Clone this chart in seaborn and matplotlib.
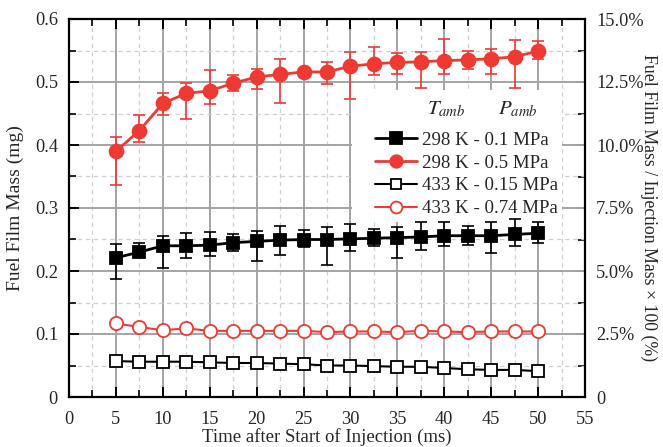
import numpy as np
import pandas as pd
import matplotlib
matplotlib.use("Agg")
import matplotlib.pyplot as plt
import seaborn as sns
from matplotlib.lines import Line2D
from matplotlib.patches import Rectangle
from matplotlib.ticker import MultipleLocator, FuncFormatter

time_ms = [5, 7.5, 10, 12.5, 15, 17.5, 20, 22.5, 25, 27.5, 30, 32.5, 35, 37.5, 40, 42.5, 45, 47.5, 50]

# 298 K - 0.1 MPa
s1_val = [0.221, 0.230, 0.240, 0.240, 0.241, 0.245, 0.247, 0.249, 0.250, 0.250, 0.251, 0.252, 0.253, 0.254, 0.256, 0.256, 0.256, 0.258, 0.260]
s1_hi = [0.243, 0.244, 0.256, 0.261, 0.262, 0.259, 0.264, 0.271, 0.265, 0.270, 0.275, 0.266, 0.270, 0.277, 0.278, 0.271, 0.277, 0.282, 0.278]
s1_lo = [0.187, 0.225, 0.204, 0.220, 0.224, 0.231, 0.216, 0.225, 0.238, 0.210, 0.231, 0.239, 0.221, 0.234, 0.239, 0.241, 0.229, 0.240, 0.244]

# 298 K - 0.5 MPa
s2_val = [0.390, 0.423, 0.466, 0.482, 0.486, 0.498, 0.508, 0.512, 0.516, 0.516, 0.525, 0.529, 0.531, 0.532, 0.534, 0.535, 0.537, 0.540, 0.549]
s2_hi = [0.412, 0.448, 0.482, 0.499, 0.519, 0.511, 0.521, 0.537, 0.520, 0.531, 0.547, 0.556, 0.546, 0.548, 0.568, 0.549, 0.552, 0.567, 0.565]
s2_lo = [0.336, 0.405, 0.447, 0.442, 0.465, 0.485, 0.489, 0.466, 0.512, 0.497, 0.473, 0.511, 0.512, 0.490, 0.513, 0.521, 0.512, 0.490, 0.536]

# 433 K - 0.15 MPa
s3_val = [0.057, 0.056, 0.056, 0.056, 0.055, 0.054, 0.054, 0.053, 0.052, 0.050, 0.050, 0.049, 0.048, 0.048, 0.046, 0.044, 0.043, 0.043, 0.041]
s3_err = [0.003] * 19

# 433 K - 0.74 MPa
s4_val = [0.117, 0.111, 0.106, 0.109, 0.105, 0.105, 0.105, 0.105, 0.105, 0.103, 0.104, 0.104, 0.103, 0.105, 0.104, 0.103, 0.104, 0.104, 0.104]
s4_err = [0.003] * 19

labels = ["298 K - 0.1 MPa", "298 K - 0.5 MPa", "433 K - 0.15 MPa", "433 K - 0.74 MPa"]
RED = "#ee3a33"
BLACK = "#000000"

sns.set_theme(style="white")
plt.rcParams["font.family"] = ["Liberation Serif", "DejaVu Serif"]
plt.rcParams["mathtext.fontset"] = "stix"

fig = plt.figure(figsize=(6.63, 4.47), dpi=100)
ax = fig.add_axes([69 / 663, 1 - 397 / 447, 516 / 663, 378 / 447])

ax.set_xlim(0, 55)
ax.set_ylim(0, 0.6)
ax.xaxis.set_major_locator(MultipleLocator(5))
ax.xaxis.set_minor_locator(MultipleLocator(2.5))
ax.yaxis.set_major_locator(MultipleLocator(0.1))
ax.yaxis.set_minor_locator(MultipleLocator(0.05))
ax.grid(True, which="major", color="#a4a4a4", lw=1.4, ls="-", zorder=0.5)
ax.grid(True, which="minor", color="#cfcfcf", lw=0.9, ls=(0, (3.5, 3)), zorder=0.5)
ax.set_axisbelow(True)

# white area behind the legend (hides grid, not data)
ax.add_patch(Rectangle((0.548, 0.463), 0.407, 0.349, transform=ax.transAxes,
                       facecolor="white", edgecolor="none", zorder=1))

series = [
    (s1_val, s1_lo, s1_hi, BLACK, "s", BLACK, 9, 2.0),
    (s2_val, s2_lo, s2_hi, RED, "o", RED, 10, 2.0),
    (s3_val, None, None, BLACK, "s", "white", 8, 1.5),
    (s4_val, None, None, RED, "o", "white", 9.5, 1.5),
]
errs = [None, None, s3_err, s4_err]

handles = []
for i, (vals, lo, hi, col, mk, mfc, ms, lw) in enumerate(series):
    df = pd.DataFrame({"t": time_ms, "v": vals})
    if lo is not None:
        yerr = [np.array(vals) - np.array(lo), np.array(hi) - np.array(vals)]
    else:
        yerr = errs[i]
    ax.errorbar(time_ms, vals, yerr=yerr, fmt="none", ecolor=col, elinewidth=1.2,
                capsize=4, capthick=1.2, zorder=3)
    sns.lineplot(data=df, x="t", y="v", ax=ax, color=col, lw=lw, marker=mk, markersize=ms,
                 markerfacecolor=mfc, markeredgecolor=col, markeredgewidth=1.3, zorder=4)
    handles.append(Line2D([], [], color=col, lw=lw, marker=mk, markersize=ms - 1,
                          markerfacecolor=mfc, markeredgecolor=col, markeredgewidth=1.3))

for sp in ax.spines.values():
    sp.set_color("black")
    sp.set_linewidth(1.6)

ax.tick_params(which="both", direction="in", top=True, left=True, bottom=True, right=False,
               color="black", labelsize=13.2)
ax.tick_params(axis="x", pad=10)
ax.tick_params(axis="y", pad=8)
ax.tick_params(which="major", length=7, width=1.4)
ax.tick_params(which="minor", length=5, width=1.2)

ax.xaxis.set_major_formatter(FuncFormatter(lambda v, p: f"{v:g}"))
ax.yaxis.set_major_formatter(FuncFormatter(lambda v, p: "0" if abs(v) < 1e-9 else f"{v:.1f}"))

ax.set_xlabel("Time after Start of Injection (ms)", fontsize=13.5, labelpad=0)
ax.set_ylabel("Fuel Film Mass (mg)", fontsize=14, labelpad=8)

ax2 = ax.twinx()
ax2.set_ylim(0, 15)
ax2.yaxis.set_major_locator(MultipleLocator(2.5))
ax2.yaxis.set_minor_locator(MultipleLocator(1.25))
ax2.yaxis.set_major_formatter(FuncFormatter(lambda v, p: "0" if abs(v) < 1e-9 else f"{v:.1f}%"))
ax2.tick_params(which="both", direction="in", right=True, left=False, color="black",
                labelsize=13.2, pad=8)
ax2.tick_params(which="major", length=7, width=1.4)
ax2.tick_params(which="minor", length=5, width=1.2)
for sp in ax2.spines.values():
    sp.set_visible(False)
ax2.set_ylabel("Fuel Film Mass / Injection Mass \u00d7 100 (%)", fontsize=12.8, rotation=270, labelpad=10)
ax2.grid(False)

leg = ax.legend(handles, labels, loc="center left", bbox_to_anchor=(0.593, 0.589),
                frameon=False, fontsize=13.6, handlelength=2.2, handletextpad=0.3,
                labelspacing=0.3, borderpad=0, borderaxespad=0)
leg.set_zorder(10)
ax.set_zorder(ax2.get_zorder() + 1)
ax.patch.set_visible(False)

ax.text(0.693, 0.760, "$T_{amb}$", transform=ax.transAxes, fontsize=15,
        ha="left", va="center", zorder=11)
ax.text(0.832, 0.760, "$P_{amb}$", transform=ax.transAxes, fontsize=15,
        ha="left", va="center", zorder=11)

fig.savefig("out.png", dpi=100)
